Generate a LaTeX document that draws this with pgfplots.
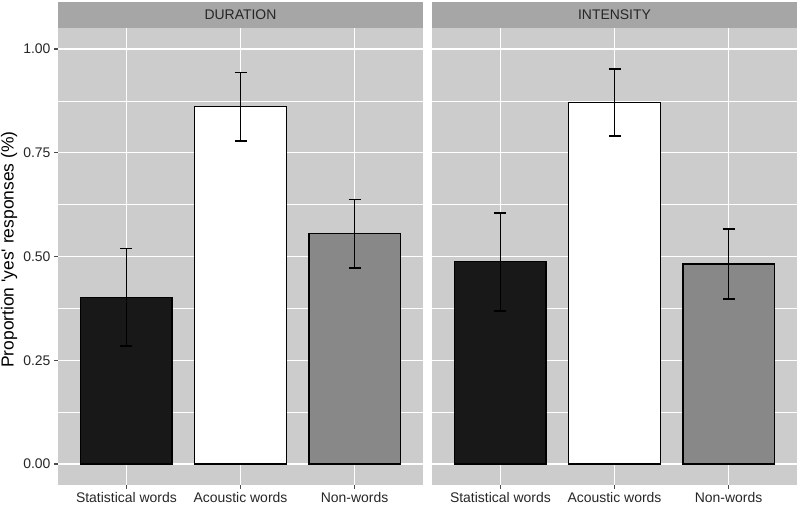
\documentclass[border=0pt]{standalone}
\usepackage{fontspec}
\setmainfont{Liberation Sans}
\usepackage{pgfplots}
\pgfplotsset{compat=1.18}

\definecolor{panel}{HTML}{CCCCCC}
\definecolor{strip}{HTML}{A6A6A6}
\definecolor{barblack}{HTML}{181818}
\definecolor{bargray}{HTML}{888888}

\pgfplotsset{
  facet/.style={
    scale only axis, width=365bp, height=457bp,
    anchor=south west, clip=false,
    xmin=0.4, xmax=3.6, ymin=-0.0506, ymax=1.0506,
    axis background/.style={fill=panel},
    axis line style={draw=none},
    xtick={1,2,3},
    xticklabels={Statistical words, Acoustic words, Non-words},
    ytick={0,0.25,0.5,0.75,1},
    minor ytick={0.125,0.375,0.625,0.875},
    grid=both,
    major grid style={draw=white, line width=1.1bp},
    minor grid style={draw=white, line width=0.55bp},
    tick align=outside, xtick pos=bottom, ytick pos=left,
    major tick length=4bp, minor tick length=0pt,
    tick style={line width=1.1bp, color=black!70},
    ticklabel style={font=\fontsize{14}{16}\selectfont, color=black!85},
  },
  bar/.style={
    ybar, bar width=0.8, bar shift=0pt, draw=black, line width=1.2bp,
    error bars/y dir=both, error bars/y explicit,
    error bars/error bar style={line width=1.6bp, black},
    error bars/error mark options={black, line width=1.6bp, mark size=6bp, rotate=90},
  },
}

\newcommand{\strip}[1]{%
  \fill[strip] (rel axis cs:0,1) rectangle (rel axis cs:1,1.0569);
  \node[font=\fontsize{14}{16}\selectfont, text=black!85] at (rel axis cs:0.5,1.0285) {#1};
}

\begin{document}
\begin{tikzpicture}
\useasboundingbox (0,0) rectangle (800bp,506bp);

\begin{axis}[facet, at={(58bp,21bp)},
  yticklabels={0.00,0.25,0.50,0.75,1.00},
  ylabel={Proportion \textquotesingle yes\textquotesingle\ responses (\%)},
  ylabel style={font=\fontsize{17.5}{20}\selectfont, text=black, at={(axis description cs:-0.134,0.515)}, anchor=center}]
\addplot[bar, fill=barblack] coordinates {(1,0.402) +- (0,0.117)};
\addplot[bar, fill=white]    coordinates {(2,0.861) +- (0,0.082)};
\addplot[bar, fill=bargray]  coordinates {(3,0.555) +- (0,0.082)};
\strip{DURATION}
\end{axis}

\begin{axis}[facet, at={(432bp,21bp)},
  yticklabels={}, ytick style={draw=none}]
\addplot[bar, fill=barblack] coordinates {(1,0.487) +- (0,0.118)};
\addplot[bar, fill=white]    coordinates {(2,0.871) +- (0,0.081)};
\addplot[bar, fill=bargray]  coordinates {(3,0.482) +- (0,0.084)};
\strip{INTENSITY}
\end{axis}
\end{tikzpicture}
\end{document}
